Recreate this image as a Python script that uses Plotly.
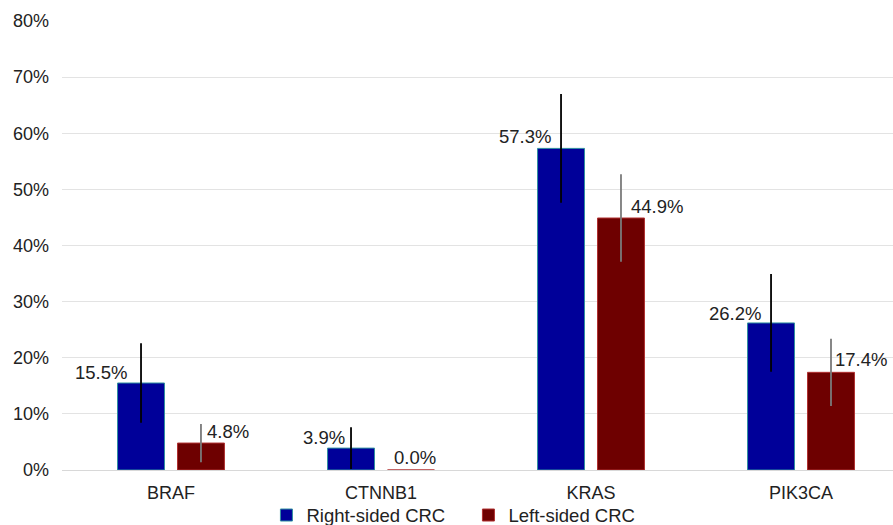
import plotly.graph_objects as go

# Mutation frequency by tumour side, with error bars (percent)
genes = ["BRAF", "CTNNB1", "KRAS", "PIK3CA"]
right_sided = [15.5, 3.9, 57.3, 26.2]
left_sided = [4.8, 0.0, 44.9, 17.4]
right_err = [7.1, 3.7, 9.7, 8.7]
left_err = [3.4, 0.0, 7.8, 6.0]
series_names = ["Right-sided CRC", "Left-sided CRC"]
y_ticks = [0, 10, 20, 30, 40, 50, 60, 70, 80]

# Label placement (pixel offsets from the top of each bar)
right_label_dx = [-12, -4, -8, -8]
right_label_dy = [-2, -2, -1, -3]
left_label_dx = [4, -19, 8, 2]
left_label_dy = [-1, 0, -1, 0]

FONT = "Liberation Sans, Arial, Helvetica, sans-serif"
TEXT = "#222222"
BLUE = "#000099"
RED = "#6e0000"

fig = go.Figure()
fig.add_trace(go.Bar(
    x=genes, y=right_sided, name=series_names[0],
    marker=dict(color=BLUE, line=dict(color="#2f8f9f", width=1)),
    error_y=dict(type="data", array=right_err, visible=True,
                 color="#000000", thickness=1.8, width=0),
    offsetgroup="r",
))
fig.add_trace(go.Bar(
    x=genes, y=left_sided, name=series_names[1],
    marker=dict(color=RED, line=dict(color="#b03030", width=1)),
    error_y=dict(type="data", array=left_err, visible=True,
                 color="#7a7a7a", thickness=1.8, width=0),
    offsetgroup="l",
))

# Value labels beside the bar tops
bar_half_offset = 30  # px from category centre to each bar centre
for i, g in enumerate(genes):
    fig.add_annotation(
        x=g, y=right_sided[i], text=f"{right_sided[i]:.1f}%",
        xref="x", yref="y", showarrow=False,
        xanchor="right", yanchor="bottom",
        xshift=-bar_half_offset + right_label_dx[i], yshift=right_label_dy[i],
        font=dict(family=FONT, size=18.5, color=TEXT),
    )
    fig.add_annotation(
        x=g, y=left_sided[i], text=f"{left_sided[i]:.1f}%",
        xref="x", yref="y", showarrow=False,
        xanchor="left", yanchor="bottom",
        xshift=bar_half_offset + left_label_dx[i], yshift=left_label_dy[i],
        font=dict(family=FONT, size=18.5, color=TEXT),
    )

fig.update_layout(
    width=893, height=525,
    margin=dict(l=62, r=0, t=21, b=55, autoexpand=False),
    paper_bgcolor="white", plot_bgcolor="white",
    barmode="group", bargap=0.429, bargroupgap=0.217,
    font=dict(family=FONT, size=18, color=TEXT),
    showlegend=True,
    legend=dict(orientation="h", x=0.246, xanchor="left", y=-0.059, yanchor="top",
                bgcolor="rgba(0,0,0,0)",
                font=dict(family=FONT, size=18.5, color=TEXT),
                itemwidth=30, entrywidth=157, traceorder="normal"),
    xaxis=dict(range=[-0.519, 3.438], showgrid=False, zeroline=False,
               showline=False, ticks="", ticklabelstandoff=10,
               tickfont=dict(family=FONT, size=18, color=TEXT)),
    yaxis=dict(range=[0, 80], tickvals=y_ticks,
               ticktext=[f"{v}%" for v in y_ticks],
               showgrid=True, gridcolor="#e3e3e3", gridwidth=1,
               zeroline=True, zerolinecolor="#d8d8d8", zerolinewidth=1,
               showline=False, ticks="", ticklabelstandoff=12,
               tickfont=dict(family=FONT, size=18, color=TEXT)),
)

fig.write_html("out.html")
